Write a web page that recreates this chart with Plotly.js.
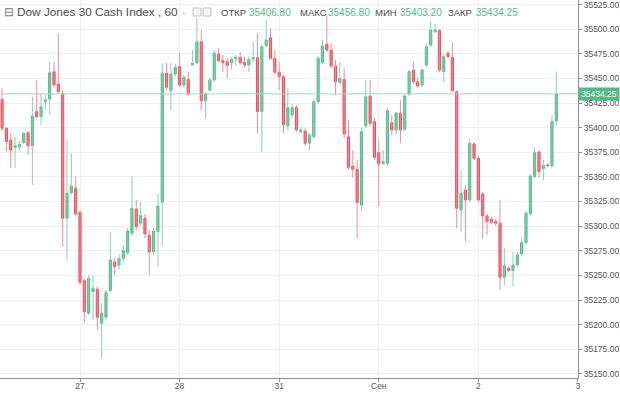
<!DOCTYPE html>
<html>
<head>
<meta charset="utf-8">
<script src="https://cdn.plot.ly/plotly-3.0.1.min.js"></script>
<style>
  html, body { margin: 0; padding: 0; background: #ffffff; }
  #chart { width: 620px; height: 393px; }
</style>
</head>
<body>
<div id="chart"></div>
<script>
// Hourly candles, Dow Jones 30 Cash Index (60)
const opens = [
  35428.8, 35399.4, 35387.5, 35380.1, 35380.7, 35384.8, 35394.9, 35381.7, 35416.2, 35411.1,
  35426.4, 35429.1, 35456.8, 35444.3, 35434.2, 35308.0, 35334.0, 35338.5, 35313.7, 35244.7,
  35211.6, 35233.5, 35236.0, 35201.5, 35207.5, 35234.5, 35263.7, 35260.3, 35267.0, 35273.1,
  35292.8, 35317.5, 35303.0, 35308.0, 35290.8, 35273.8, 35294.4, 35324.3, 35455.2, 35437.5,
  35454.5, 35461.9, 35443.3, 35449.1, 35463.6, 35465.9, 35487.3, 35427.4, 35438.2, 35448.4,
  35474.8, 35468.0, 35467.0, 35465.9, 35469.7, 35471.4, 35466.3, 35463.6, 35469.7, 35471.0,
  35416.2, 35483.2, 35491.3, 35470.4, 35456.2, 35451.7, 35401.7, 35412.9, 35420.3, 35395.9,
  35396.6, 35384.1, 35390.8, 35426.4, 35465.9, 35484.9, 35478.8, 35462.6, 35446.0, 35449.1,
  35390.8, 35361.1, 35357.8, 35321.5, 35401.7, 35432.1, 35406.1, 35374.6, 35363.8, 35363.8,
  35405.0, 35397.6, 35414.6, 35398.3, 35434.2, 35458.5, 35446.7, 35443.3, 35463.6, 35483.9,
  35497.4, 35498.4, 35456.8, 35475.5, 35471.4, 35436.5, 35316.4, 35336.7, 35326.6, 35383.4,
  35368.9, 35332.7, 35310.4, 35307.0, 35304.6, 35303.0, 35248.1, 35257.3, 35254.9, 35260.6,
  35271.8, 35283.3, 35312.4, 35350.2, 35375.3, 35358.4, 35362.1, 35361.1, 35406.8
];
const highs = [
  35440.0, 35400.7, 35394.3, 35390.8, 35386.5, 35395.9, 35396.6, 35431.4, 35448.4, 35434.9,
  35433.2, 35467.0, 35467.0, 35495.8, 35438.2, 35387.5, 35374.3, 35350.2, 35316.4, 35246.4,
  35250.5, 35250.5, 35238.3, 35222.1, 35235.3, 35294.4, 35267.7, 35271.8, 35280.9, 35298.2,
  35350.2, 35326.6, 35324.9, 35312.4, 35296.2, 35298.2, 35333.4, 35465.3, 35465.6, 35465.3,
  35464.6, 35475.5, 35453.5, 35456.8, 35478.8, 35511.3, 35499.1, 35436.2, 35450.4, 35478.8,
  35480.9, 35473.8, 35470.7, 35471.7, 35473.8, 35476.8, 35471.7, 35472.7, 35486.9, 35495.8,
  35484.9, 35509.3, 35500.9, 35478.8, 35466.7, 35453.5, 35440.3, 35424.0, 35423.0, 35400.7,
  35399.7, 35394.6, 35429.1, 35472.7, 35489.0, 35514.3, 35485.9, 35468.7, 35466.7, 35460.6,
  35407.8, 35377.3, 35367.2, 35399.7, 35448.4, 35448.4, 35409.8, 35387.5, 35377.3, 35420.0,
  35412.9, 35415.9, 35428.1, 35434.2, 35458.5, 35466.7, 35450.4, 35460.6, 35484.9, 35508.3,
  35505.2, 35500.1, 35474.8, 35477.8, 35487.3, 35438.2, 35357.0, 35341.8, 35389.2, 35385.5,
  35371.3, 35334.7, 35312.4, 35309.3, 35307.3, 35326.6, 35277.6, 35259.6, 35273.8, 35273.8,
  35288.0, 35315.4, 35353.0, 35380.7, 35377.3, 35367.2, 35364.1, 35412.9, 35456.8
];
const lows = [
  35396.6, 35375.6, 35358.8, 35359.1, 35377.3, 35383.4, 35372.3, 35341.8, 35409.8, 35402.7,
  35417.9, 35412.9, 35440.3, 35435.2, 35279.2, 35265.7, 35331.7, 35310.4, 35240.3, 35201.8,
  35209.9, 35204.8, 35194.7, 35165.9, 35204.8, 35233.2, 35250.5, 35255.6, 35263.7, 35270.8,
  35290.1, 35296.2, 35300.2, 35288.0, 35250.5, 35271.8, 35258.9, 35279.2, 35438.2, 35417.9,
  35452.4, 35441.3, 35440.3, 35432.1, 35462.6, 35464.6, 35417.9, 35409.5, 35436.2, 35446.4,
  35466.7, 35456.5, 35450.1, 35458.5, 35462.6, 35463.6, 35461.6, 35456.5, 35466.7, 35394.3,
  35375.6, 35481.9, 35468.7, 35453.5, 35438.2, 35394.3, 35397.6, 35409.8, 35395.6, 35393.6,
  35381.4, 35377.3, 35388.5, 35424.0, 35464.6, 35476.8, 35460.6, 35433.2, 35444.3, 35389.5,
  35357.0, 35348.9, 35287.7, 35316.4, 35399.7, 35401.7, 35367.2, 35319.8, 35362.1, 35361.1,
  35392.6, 35392.6, 35384.1, 35396.6, 35432.1, 35444.3, 35440.3, 35441.3, 35461.6, 35481.9,
  35496.1, 35456.5, 35446.4, 35470.7, 35436.2, 35297.9, 35294.4, 35284.3, 35324.6, 35367.2,
  35324.6, 35287.7, 35291.1, 35302.2, 35300.2, 35235.3, 35240.3, 35253.5, 35238.6, 35258.6,
  35269.8, 35280.9, 35310.4, 35348.9, 35348.9, 35346.9, 35360.1, 35359.1, 35403.2
];
const closes = [
  35399.4, 35385.8, 35377.3, 35381.7, 35383.1, 35394.3, 35381.7, 35411.8, 35411.1, 35421.3,
  35428.1, 35455.8, 35443.3, 35436.5, 35308.0, 35333.4, 35340.8, 35312.4, 35242.7, 35213.2,
  35247.1, 35237.0, 35207.5, 35211.6, 35232.5, 35265.7, 35258.9, 35267.0, 35275.1, 35295.1,
  35318.2, 35299.5, 35310.7, 35292.1, 35273.8, 35295.1, 35320.5, 35455.2, 35441.0, 35454.5,
  35461.3, 35443.3, 35451.1, 35434.2, 35465.3, 35487.3, 35427.4, 35434.2, 35448.4, 35475.5,
  35468.0, 35465.9, 35463.3, 35469.4, 35471.4, 35465.9, 35463.6, 35469.4, 35471.0, 35416.2,
  35482.2, 35489.0, 35470.4, 35456.2, 35451.7, 35402.7, 35420.3, 35420.3, 35397.6, 35397.6,
  35384.1, 35392.6, 35426.4, 35470.4, 35482.9, 35478.8, 35462.6, 35446.7, 35450.1, 35393.6,
  35359.8, 35357.8, 35323.9, 35395.9, 35431.4, 35404.4, 35369.9, 35363.1, 35365.5, 35417.2,
  35397.6, 35414.6, 35397.6, 35432.1, 35456.8, 35446.7, 35442.3, 35458.5, 35482.2, 35499.1,
  35499.1, 35458.5, 35472.0, 35472.0, 35437.5, 35318.2, 35333.4, 35326.6, 35384.1, 35368.9,
  35326.6, 35310.4, 35304.6, 35304.0, 35303.0, 35248.1, 35259.6, 35254.9, 35260.6, 35270.8,
  35283.3, 35313.1, 35351.0, 35374.6, 35355.3, 35361.8, 35361.6, 35406.1, 35434.25
];

// Day labels and the bar index where each day starts
const dayLabels = ['27', '28', '31', 'Сен', '2', '3'];
const dayStartBar = [18, 41, 64, 87, 110, 133];

const priceTicks = [35150, 35175, 35200, 35225, 35250, 35275, 35300, 35325, 35350,
                    35375, 35400, 35425, 35450, 35475, 35500, 35525];

const barIndex = opens.map((_, i) => i);
const n = closes.length;
const lastOpen = opens[n - 1], lastHigh = highs[n - 1], lastLow = lows[n - 1], lastClose = closes[n - 1];

const GREEN = '#53b987', RED = '#eb4d5c';
const GREEN_WICK = '#8fcdb2', RED_WICK = '#f08e98';
const PLOT_W = 578, PLOT_H = 378;
const px = v => v / PLOT_W;          // pixel -> paper x
const py = v => 1 - v / PLOT_H;      // pixel -> paper y

// wick segments (high-low) built from the data arrays, drawn in a paler tone
function wickTrace(up, color) {
  const xs = [], ys = [];
  barIndex.forEach(i => {
    if ((closes[i] >= opens[i]) === up) {
      xs.push(i, i, null);
      ys.push(highs[i], lows[i], null);
    }
  });
  return { type: 'scatter', mode: 'lines', x: xs, y: ys,
           line: { color: color, width: 1 }, hoverinfo: 'none', showlegend: false };
}

// candle bodies: open/close range (the wicks come from the trace above)
const bodyTop = barIndex.map(i => Math.max(opens[i], closes[i]));
const bodyBot = barIndex.map(i => Math.min(opens[i], closes[i]));
const candles = {
  type: 'candlestick',
  x: barIndex,
  open: opens, high: bodyTop, low: bodyBot, close: closes,
  increasing: { line: { color: GREEN, width: 1 }, fillcolor: GREEN },
  decreasing: { line: { color: RED, width: 1 }, fillcolor: RED },
  whiskerwidth: 0,
  hoverinfo: 'none',
  showlegend: false
};

const fontFam = '"Liberation Sans", Arial, sans-serif';
const hdr = (x, text, color, size) => ({
  xref: 'paper', yref: 'paper', x: px(x), y: py(12), xanchor: 'left', yanchor: 'middle',
  text: text, showarrow: false, borderpad: 0, font: { family: fontFam, size: size, color: color }
});

const annotations = [
  hdr(3, '⊟', '#7a7a7a', 12),
  hdr(16, 'Dow Jones 30 Cash Index , 60', '#4a4a4a', 11.8),
  hdr(181, '-', '#c0c0c0', 10),
  hdr(220, 'ОТКР', '#4a4a4a', 9.5),
  hdr(248, lastOpen.toFixed(2), GREEN, 10),
  hdr(299, 'МАКС', '#4a4a4a', 9.5),
  hdr(327, lastHigh.toFixed(2), GREEN, 10),
  hdr(374, 'МИН', '#4a4a4a', 9.5),
  hdr(399, lastLow.toFixed(2), GREEN, 10),
  hdr(447, 'ЗАКР', '#4a4a4a', 9.5),
  hdr(475, lastClose.toFixed(2), GREEN, 10),
  {
    xref: 'paper', yref: 'y', x: 1.0, y: lastClose, xanchor: 'left', yanchor: 'middle',
    text: lastClose.toFixed(2), showarrow: false, bgcolor: GREEN, width: 38, height: 10,
    borderpad: 1, font: { family: fontFam, size: 8.5, color: '#ffffff' }
  }
];

const shapes = [
  { type: 'line', xref: 'paper', yref: 'y', x0: 0, x1: 1, y0: lastClose, y1: lastClose,
    line: { color: '#9fd8bd', width: 1 } },
  { type: 'rect', xref: 'paper', yref: 'paper', x0: px(193), x1: px(201), y0: py(16), y1: py(8),
    line: { color: '#c4c4c4', width: 1 }, fillcolor: '#f4f4f4' },
  { type: 'rect', xref: 'paper', yref: 'paper', x0: px(203), x1: px(211), y0: py(16), y1: py(8),
    line: { color: '#c4c4c4', width: 1 }, fillcolor: '#f4f4f4' }
];

const layout = {
  width: 620, height: 393,
  margin: { l: 0, r: 42, t: 0, b: 15, pad: 0 },
  paper_bgcolor: '#ffffff', plot_bgcolor: '#ffffff',
  showlegend: false,
  dragmode: false,
  xaxis: {
    type: 'linear',
    range: [-0.476, 133.01],
    rangeslider: { visible: false },
    tickmode: 'array', tickvals: dayStartBar, ticktext: dayLabels,
    showgrid: true, gridcolor: '#edf0f3', gridwidth: 1,
    showline: true, linecolor: '#8e8e8e', linewidth: 1,
    ticks: 'outside', ticklen: 3, tickcolor: '#8e8e8e',
    ticklabelstandoff: -3,
    tickfont: { family: fontFam, size: 8.5, color: '#555555' },
    zeroline: false, fixedrange: true
  },
  yaxis: {
    side: 'right',
    range: [35145.8, 35529.6],
    tickmode: 'array', tickvals: priceTicks,
    ticktext: priceTicks.map(v => v.toFixed(2)),
    ticklabeloverflow: 'allow',
    showgrid: true, gridcolor: '#edf0f3', gridwidth: 1,
    showline: true, linecolor: '#8e8e8e', linewidth: 1,
    ticks: 'outside', ticklen: 3, tickcolor: '#8e8e8e',
    tickfont: { family: fontFam, size: 8.5, color: '#555555' },
    zeroline: false, fixedrange: true
  },
  annotations: annotations,
  shapes: shapes
};

Plotly.newPlot('chart', [wickTrace(true, GREEN_WICK), wickTrace(false, RED_WICK), candles],
               layout, { staticPlot: true, displayModeBar: false });
</script>
</body>
</html>
